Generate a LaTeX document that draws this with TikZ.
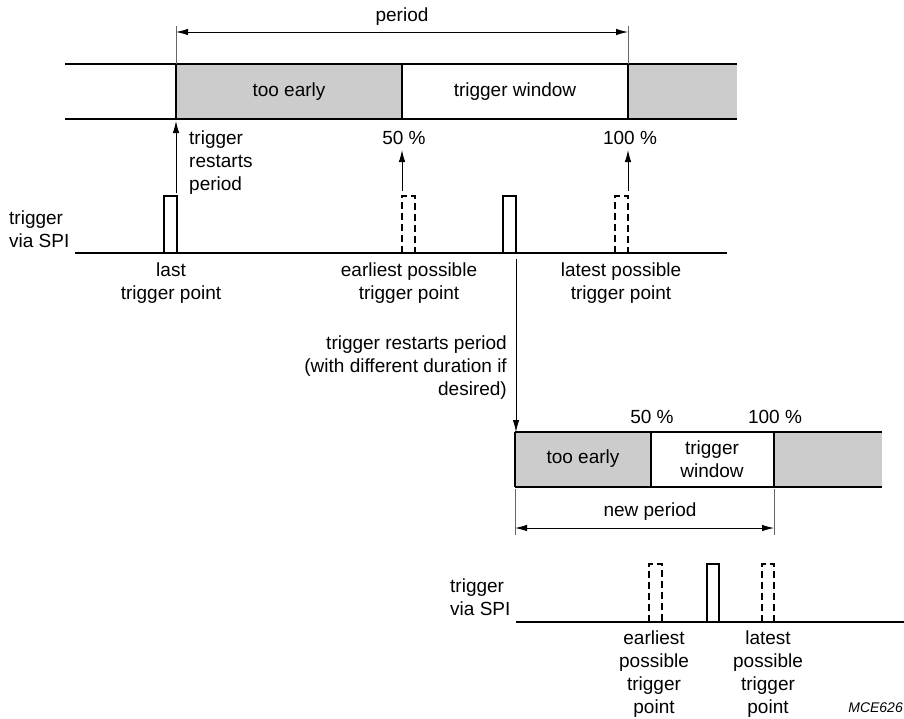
\documentclass[tikz,border=0pt]{standalone}
\usepackage{fontspec}
\setmainfont{Liberation Sans}
\usetikzlibrary{arrows.meta}
\definecolor{shade}{HTML}{CCCCCC}
\begin{document}
\begin{tikzpicture}[x=1pt,y=-1pt,
  txt/.style={inner sep=0pt,align=center,font=\fontsize{19}{23}\selectfont},
  barline/.style={line width=2.6pt},
  pulse/.style={line width=2pt},
  dpulse/.style={line width=2pt,dash pattern=on 7pt off 4pt},
  thinarrow/.style={line width=0.9pt,-{Latex[length=12pt,width=6.5pt]}},
  dblarrow/.style={line width=0.9pt,{Latex[length=12pt,width=6.5pt]}-{Latex[length=12pt,width=6.5pt]}},
  tick/.style={line width=0.8pt,draw=black!60},
  cell/.style={inner sep=0pt,minimum height=55pt,fill=shade}]
\useasboundingbox (0,0) rectangle (904,718);
\clip (0,0) rectangle (904,718);

% ---------- top bar ----------
\node[cell,minimum width=226pt] (te1) at (289,91.5) {};
\node[cell,minimum width=109pt] (rest1) at (682.5,91.5) {};
\node[txt] at (289,92) {too early};
\node[txt] at (515,92) {trigger window};
\draw[barline] (65,64) -- (737,64);
\draw[barline] (65,119) -- (737,119);
\draw[barline] (176,64) -- (176,119);
\draw[barline] (402,64) -- (402,119);
\draw[barline] (628,64) -- (628,119);

% period dimension
\coordinate (pL) at (176,32);
\coordinate (pR) at (628,32);
\draw[tick] (176,26) -- (176,64);
\draw[tick] (628,26) -- (628,64);
\draw[dblarrow] (pL) -- (pR);
\node[txt] (period) at (402,17) {period};

% ---------- top signal ----------
\draw[line width=2.4pt] (75,253) -- (727,253);
\draw[pulse] (164,253) -- (164,196) -- (177,196) -- (177,253);
\draw[dpulse] (402,253) -- (402,196) -- (415,196) -- (415,253);
\draw[pulse] (503,253) -- (503,196) -- (516,196) -- (516,253);
\draw[dpulse] (615,253) -- (615,196) -- (628,196) -- (628,253);

\coordinate (a1s) at (176,193);
\coordinate (a1e) at (176,121);
\coordinate (a2s) at (402,191);
\coordinate (a2e) at (402,150);
\coordinate (a3s) at (628,191);
\coordinate (a3e) at (628,150);
\draw[thinarrow] (a1s) -- (a1e);
\draw[thinarrow] (a2s) -- (a2e);
\draw[thinarrow] (a3s) -- (a3e);

\node[txt,align=left,anchor=west] (restart1) at (189,163) {trigger\\restarts\\period};
\node[txt] (p50a) at (404,138) {50 \%};
\node[txt] (p100a) at (630,138) {100 \%};
\node[txt,align=left,anchor=west] (spi1) at (9,229) {trigger\\via SPI};
\node[txt] (last) at (171,283) {last\\trigger point};
\node[txt] (earl1) at (409,283) {earliest possible\\trigger point};
\node[txt] (late1) at (621,283) {latest possible\\trigger point};

% restart connector
\coordinate (rs) at (516,259);
\coordinate (re) at (516,432);
\draw[thinarrow] (rs) -- (re);
\node[txt,align=right,anchor=east] (restart2) at (507,368) {trigger restarts period\\(with different duration if\\desired)};

% ---------- bottom bar ----------
\node[cell,minimum width=136pt] (te2) at (583,459.5) {};
\node[cell,minimum width=108pt] (rest2) at (828,459.5) {};
\node[txt] at (583,459) {too early};
\node[txt] at (712,459) {trigger\\window};
\draw[barline] (515,432) -- (882,432);
\draw[barline] (515,487) -- (882,487);
\draw[barline] (515,432) -- (515,487);
\draw[barline] (651,432) -- (651,487);
\draw[barline] (774,432) -- (774,487);
\node[txt] (p50b) at (652,417) {50 \%};
\node[txt] (p100b) at (775,417) {100 \%};

% new period
\coordinate (nL) at (515,528);
\coordinate (nR) at (774,528);
\draw[tick] (515,489) -- (515,535);
\draw[tick] (774,489) -- (774,535);
\draw[dblarrow] (nL) -- (nR);
\node[txt] (newp) at (650,512) {new period};

% ---------- bottom signal ----------
\draw[line width=2.4pt] (516,622) -- (904,622);
\draw[dpulse] (649,622) -- (649,564) -- (662,564) -- (662,622);
\draw[pulse] (707,622) -- (707,564) -- (719,564) -- (719,622);
\draw[dpulse] (762,622) -- (762,564) -- (774,564) -- (774,622);

\node[txt,align=left,anchor=west] (spi2) at (450,597) {trigger\\via SPI};
\node[txt] (earl2) at (654,674) {earliest\\possible\\trigger\\point};
\node[txt] (late2) at (768,674) {latest\\possible\\trigger\\point};
\node[inner sep=0pt,anchor=east,font=\fontsize{14}{16}\selectfont\itshape] (mce) at (903,708) {MCE626};
\end{tikzpicture}
\end{document}
